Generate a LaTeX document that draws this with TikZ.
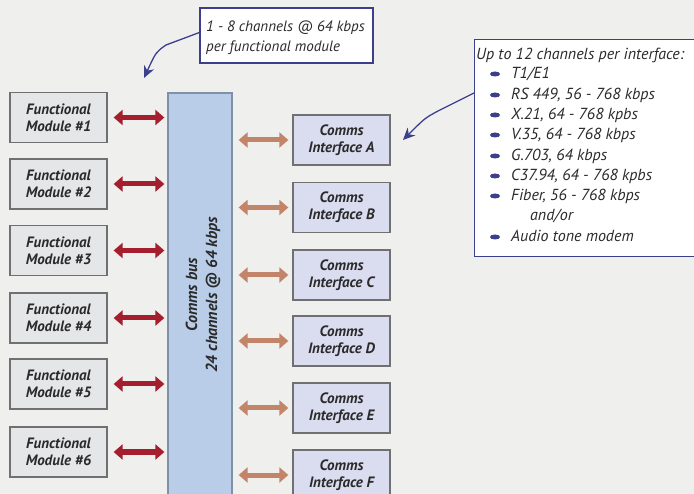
\documentclass[tikz,border=0pt]{standalone}
\usepackage{fontspec}
\setmainfont{PT Sans}
\usetikzlibrary{arrows.meta,calc,shapes.geometric}
\definecolor{bg}{HTML}{EFEFED}
\definecolor{fmfill}{HTML}{E5E6E8}
\definecolor{boxline}{HTML}{707072}
\definecolor{busfill}{HTML}{BACDE8}
\definecolor{busline}{HTML}{8090A8}
\definecolor{cifill}{HTML}{DADCF0}
\definecolor{redarr}{HTML}{A51E2E}
\definecolor{brownarr}{HTML}{C3856A}
\definecolor{navy}{HTML}{3B3F8C}
\definecolor{txt}{HTML}{2A2A2A}
\tikzset{
  fmbox/.style={draw=boxline,fill=fmfill,line width=1.3pt,minimum width=97pt,minimum height=50pt,
    align=center,text=txt,font=\fontsize{15}{17}\selectfont\bfseries\itshape,inner sep=0pt},
  cibox/.style={fmbox,fill=cifill},
  redlink/.style={draw=redarr,line width=5pt,{Triangle[length=9pt,width=15pt]}-{Triangle[length=9pt,width=15pt]}},
  brownlink/.style={draw=brownarr,line width=5pt,{Triangle[length=9pt,width=15pt]}-{Triangle[length=9pt,width=15pt]}},
  callout/.style={draw=navy,fill=white,line width=1.2pt,text=txt,inner sep=0pt},
  pointer/.style={draw=navy,line width=1.3pt,-{Stealth[length=12pt,width=11pt]}},
  calltext/.style={text=txt,font=\fontsize{15}{20}\selectfont\itshape,inner sep=0pt},
  listtext/.style={text=txt,font=\fontsize{16}{20}\selectfont\itshape,inner sep=0pt},
  bul/.style={fill=navy,ellipse,minimum width=10pt,minimum height=5pt,inner sep=0pt,draw=none},
}
\begin{document}
\begin{tikzpicture}[x=1pt,y=-1pt]
\useasboundingbox (0,0) rectangle (694,494);
\fill[bg] (0,0) rectangle (694,494);

% bus
\node[draw=busline,fill=busfill,line width=1.3pt,minimum width=64pt,minimum height=420pt,inner sep=0pt] (bus) at (200,303) {};
\node[rotate=90,align=center,text=txt,font=\fontsize{16}{20}\selectfont\bfseries\itshape] (buslabel) at (203,295) {Comms bus\\24 channels @ 64 kbps};

% functional modules
\foreach \i/\y in {1/117.5,2/184,3/250.5,4/318,5/384,6/452}{
  \node[fmbox] (fm\i) at (58.5,\y) {Functional\\Module \#\i};
  \draw[redlink,shorten <=6pt,shorten >=3pt] (fm\i.east) -- (fm\i.east -| bus.west);
}
% comms interfaces
\foreach \l/\y in {A/140,B/207.5,C/275,D/341,E/408,F/475}{
  \node[cibox] (ci\l) at (341.5,\y) {Comms\\Interface \l};
  \draw[brownlink,shorten <=6pt,shorten >=4pt] (ci\l.west -| bus.east) -- (ci\l.west);
}

% top callout
\node[callout,minimum width=173pt,minimum height=55pt] (call1) at (286.5,35.5) {};
\node[calltext,anchor=base west] (c1a) at (206,32) {1 - 8 channels @ 64 kbps};
\node[calltext,anchor=base west] (c1b) at (206,52) {per functional module};
\coordinate (tip1) at (144,78);
\draw[pointer] ($(call1.west)+(0,-3)$) -- (166,45) .. controls (156,52) .. (tip1);

% right callout
\node[callout,minimum width=226pt,minimum height=217pt,anchor=north west] (call2) at (474,39) {};
\node[listtext,anchor=base west] (t0) at (476,60) {Up to 12 channels per interface:};
\foreach \k/\yy/\s in {1/79/{T1/E1},2/100/{RS 449, 56 - 768 kbps},3/120/{X.21, 64 - 768 kpbs},4/140/{V.35, 64 - 768 kbps},5/161/{G.703, 64 kbps},6/181/{C37.94, 64 - 768 kpbs},7/201/{Fiber, 56 - 768 kbps},9/242/{Audio tone modem}}{
  \node[bul] (b\k) at (495,\yy-5) {};
  \node[listtext,anchor=base west] (t\k) at (511,\yy) {\s};
}
\node[listtext,anchor=base west] (t8) at (530,221) {and/or};
\coordinate (tip2) at (403,140);
\draw[pointer] (call2.west |- 0,93) -- (438,111) .. controls (425,118) .. (tip2);
\end{tikzpicture}
\end{document}
